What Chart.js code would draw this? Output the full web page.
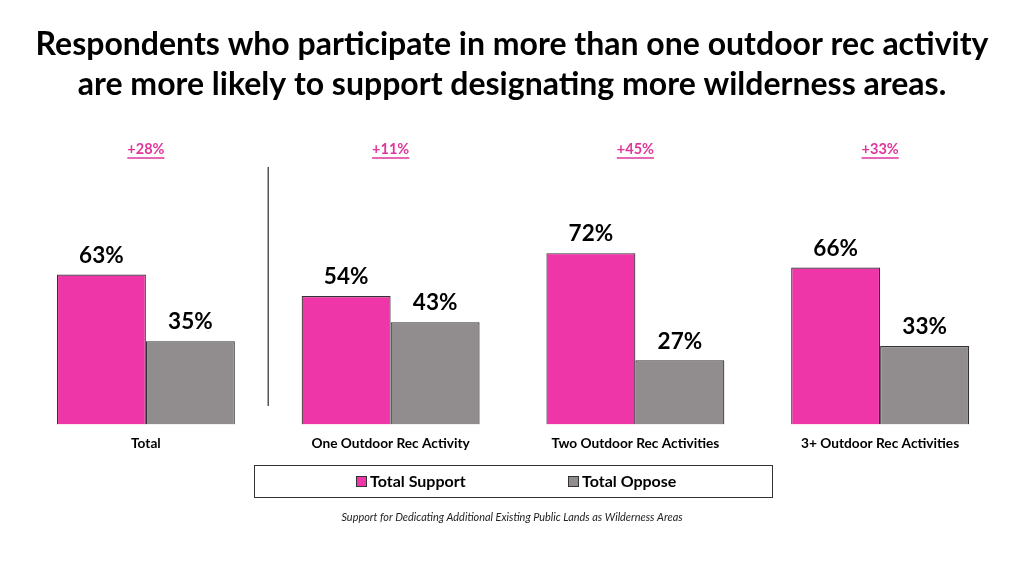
<!DOCTYPE html>
<html><head><meta charset="utf-8">
<script src="https://cdn.jsdelivr.net/npm/chart.js@4/dist/chart.umd.min.js"></script>
<style>html,body{margin:0;padding:0;background:#fff;}#wrap{width:1024px;height:576px;}</style>
</head><body><div id="wrap"><canvas id="c" width="1024" height="576"></canvas></div>
<script>
const categories = ["Total", "One Outdoor Rec Activity", "Two Outdoor Rec Activities", "3+ Outdoor Rec Activities"];
const supportValues = [63, 54, 72, 66];
const opposeValues = [35, 43, 27, 33];
const differenceLabels = ["+28%", "+11%", "+45%", "+33%"];
const seriesNames = ["Total Support", "Total Oppose"];
const titleLines = ["Respondents who participate in more than one outdoor rec activity", "are more likely to support designating more wilderness areas."];
const footnote = "Support for Dedicating Additional Existing Public Lands as Wilderness Areas";

const PINK = "#EE36A8", GREY = "#918D8E", EDGE = "#333333";
const FONT = "Lato, 'Open Sans', sans-serif";

const decor = {
  id: "decor",
  afterDatasetsDraw(chart) {
    const ctx = chart.ctx, xs = chart.scales.x, ca = chart.chartArea;
    ctx.save();
    ctx.fillStyle = "#000"; ctx.textAlign = "center"; ctx.textBaseline = "middle";
    ctx.font = "bold 32px " + FONT;
    ctx.fillText(titleLines[0], 512, 45);
    ctx.fillText(titleLines[1], 512, 85);
    ctx.font = "bold 14.5px " + FONT; ctx.fillStyle = "#E0359B"; ctx.strokeStyle = "#E0359B"; ctx.lineWidth = 1.3;
    differenceLabels.forEach((t, i) => {
      const x = xs.getPixelForValue(i);
      ctx.fillText(t, x, 149);
      const w = ctx.measureText(t).width;
      ctx.beginPath(); ctx.moveTo(x - w / 2, 158); ctx.lineTo(x + w / 2, 158); ctx.stroke();
    });
    const sx = (xs.getPixelForValue(0) + xs.getPixelForValue(1)) / 2;
    ctx.strokeStyle = "#555"; ctx.lineWidth = 1.5;
    ctx.beginPath(); ctx.moveTo(sx, 167); ctx.lineTo(sx, 406); ctx.stroke();
    ctx.fillStyle = "#000"; ctx.font = "bold 22.5px " + FONT;
    chart.data.datasets.forEach((ds, di) => {
      chart.getDatasetMeta(di).data.forEach((bar, i) => {
        ctx.fillText(ds.data[i] + "%", bar.x, bar.y - 19);
      });
    });
    const cx = (ca.left + ca.right) / 2;
    ctx.strokeStyle = "#333"; ctx.lineWidth = 1;
    ctx.strokeRect(cx - 259 + 0.5, 465.5, 518, 32);
    ctx.font = "bold 16px " + FONT; ctx.textAlign = "left";
    const items = [{x: 356, c: PINK}, {x: 568, c: GREY}];
    items.forEach((it, i) => {
      ctx.fillStyle = it.c; ctx.fillRect(it.x, 476, 11, 11);
      ctx.strokeStyle = "#333"; ctx.strokeRect(it.x + 0.5, 476.5, 10, 10);
      ctx.fillStyle = "#000"; ctx.fillText(seriesNames[i], it.x + 14, 482);
    });
    ctx.textAlign = "center"; ctx.font = "italic 10.9px " + FONT; ctx.fillStyle = "#222";
    ctx.fillText(footnote, 512, 517);
    ctx.restore();
  }
};

new Chart(document.getElementById("c"), {
  type: "bar",
  data: {
    labels: categories,
    datasets: [
      {label: seriesNames[0], data: supportValues, backgroundColor: PINK, borderColor: EDGE, borderWidth: 1.2},
      {label: seriesNames[1], data: opposeValues, backgroundColor: GREY, borderColor: EDGE, borderWidth: 1.2}
    ]
  },
  options: {
    responsive: false, animation: false, devicePixelRatio: 1,
    layout: {padding: {top: 186.5, left: 23.5, right: 21.5, bottom: 113}},
    datasets: {bar: {categoryPercentage: 0.727, barPercentage: 1}},
    plugins: {legend: {display: false}, title: {display: false}, tooltip: {enabled: false}},
    scales: {
      x: {grid: {display: false, drawTicks: false}, border: {display: false},
          ticks: {color: "#000", font: {family: FONT, weight: "bold", size: 13.7}, padding: 11, maxRotation: 0}},
      y: {display: false, min: 0, max: 100}
    }
  },
  plugins: [decor]
});
</script></body></html>
